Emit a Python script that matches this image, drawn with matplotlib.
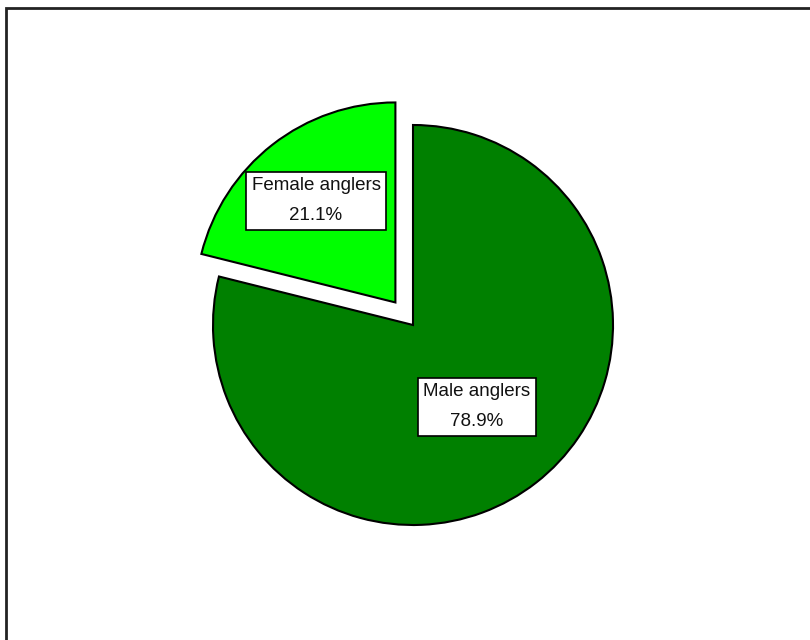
import numpy as np
import matplotlib.pyplot as plt
from matplotlib.patches import Rectangle

plt.rcParams['font.family'] = ['Liberation Sans', 'DejaVu Sans']

# udział wędkarzy wg płci
labels = ['Female anglers', 'Male anglers']
shares = [21.1, 78.9]
colors = ['#00FF00', '#008000']
explode = [0.143, 0.0]
label_dist = [0.645, 0.52]

fig = plt.figure(figsize=(8.1, 6.4), dpi=100)
ax = fig.add_axes([0, 0, 1, 1])

cx, cy, r = 413, 315, 200
# explode w pie() jest w jednostkach danych, więc skalujemy przez promień
wedges, _ = ax.pie(shares, colors=colors, explode=[e * r for e in explode],
                   startangle=90, center=(cx, cy), radius=r, frame=True,
                   wedgeprops=dict(edgecolor='black', linewidth=1.5))
ax.set_xlim(0, 810)
ax.set_ylim(0, 640)
ax.set_aspect('equal')
ax.axis('off')

for w, lab, val, d in zip(wedges, labels, shares, label_dist):
    ang = np.deg2rad((w.theta1 + w.theta2) / 2)
    x0, y0 = w.center
    ax.text(x0 + d * r * np.cos(ang), y0 + d * r * np.sin(ang),
            '%s\n%.1f%%' % (lab, val), ha='center', va='center',
            fontsize=13.5, linespacing=2.0, color='#111111',
            bbox=dict(boxstyle='square,pad=0.3', facecolor='white',
                      edgecolor='black', linewidth=1.2))

# ramka (prawa i dolna krawędź poza obrazkiem)
fig.add_artist(Rectangle((6 / 810, -0.1), 1.2, 0.1 + (640 - 8) / 640,
                         transform=fig.transFigure, fill=False,
                         edgecolor='#222222', linewidth=2))

fig.savefig('out.png', dpi=100)
